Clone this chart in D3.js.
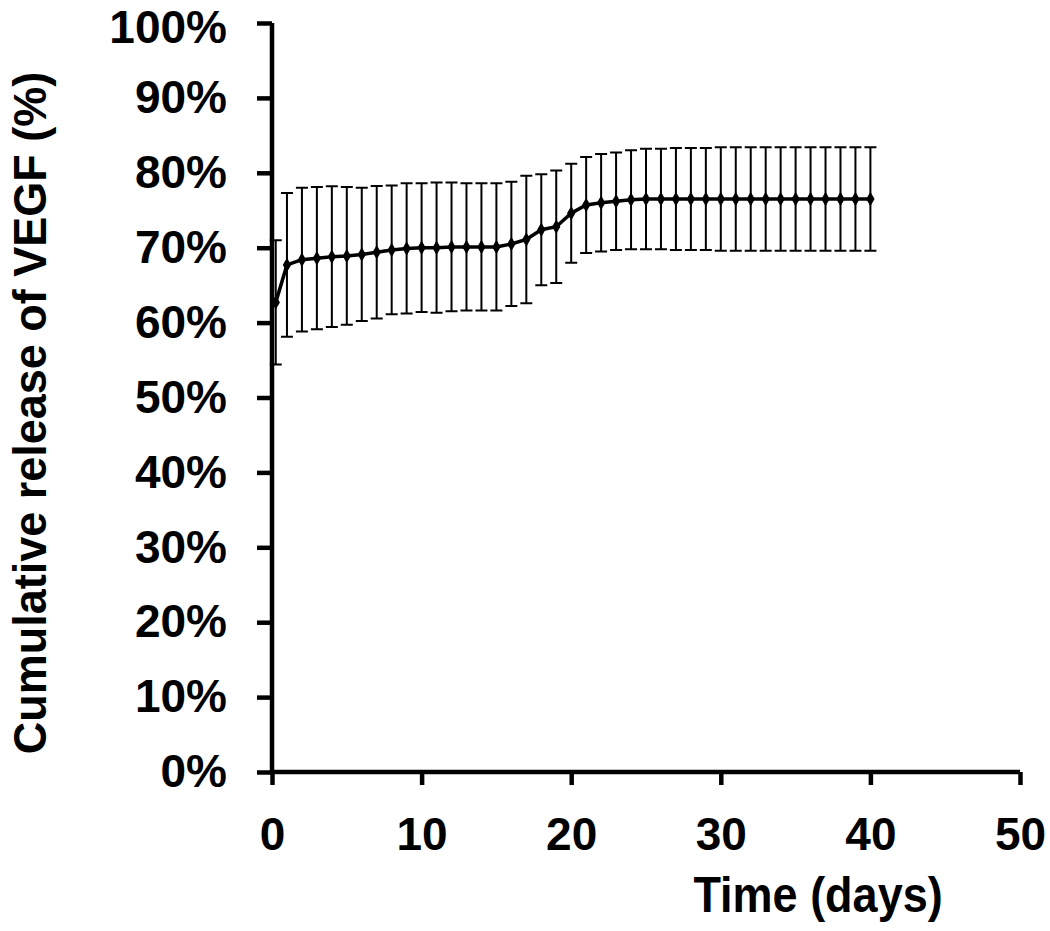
<!DOCTYPE html>
<html>
<head>
<meta charset="utf-8">
<script src="https://cdn.jsdelivr.net/npm/d3@7/dist/d3.min.js"></script>
<style>
  body { margin: 0; background: #fff; }
  text { font-family: "Liberation Sans", Arial, sans-serif; font-weight: bold; fill: #000; }
</style>
</head>
<body>
<div id="chart"></div>
<script>
// time points (days)
const days = [0.25, 1, 2, 3, 4, 5, 6, 7, 8, 9, 10, 11, 12, 13, 14, 15, 16, 17, 18, 19, 20,
  21, 22, 23, 24, 25, 26, 27, 28, 29, 30, 31, 32, 33, 34, 35, 36, 37, 38, 39, 40];
// mean cumulative release (%)
const release = [62.7, 67.7, 68.4, 68.6, 68.8, 68.9, 69.1, 69.4, 69.7, 69.9, 70.0,
  70.0, 70.1, 70.1, 70.1, 70.1, 70.5, 71.1, 72.4, 72.8, 74.6,
  75.7, 76.0, 76.2, 76.4, 76.5, 76.5, 76.5, 76.5, 76.5, 76.5,
  76.5, 76.5, 76.5, 76.5, 76.5, 76.5, 76.5, 76.5, 76.5, 76.5];
// standard deviation (%)
const sd = [8.3, 9.6, 9.6, 9.5, 9.4, 9.2, 8.9, 8.85, 8.6, 8.7, 8.6,
  8.7, 8.6, 8.5, 8.5, 8.5, 8.3, 8.5, 7.4, 7.5, 6.6,
  6.4, 6.5, 6.5, 6.6, 6.7, 6.7, 6.8, 6.8, 6.8, 6.9,
  6.9, 6.9, 6.9, 6.9, 6.9, 6.9, 6.9, 6.9, 6.9, 6.9];
const xTicks = [0, 10, 20, 30, 40, 50];
const yTicks = [0, 10, 20, 30, 40, 50, 60, 70, 80, 90, 100];

const width = 1050, height = 931;
const margin = { left: 272, right: 30, top: 23, bottom: 159 };

const data = days.map((d, i) => ({ t: d, v: release[i], e: sd[i] }));

const svg = d3.select('#chart').append('svg')
  .attr('width', width)
  .attr('height', height);

const x = d3.scaleLinear().domain([0, 50]).range([margin.left, width - margin.right]);
const y = d3.scaleLinear().domain([0, 100]).range([height - margin.bottom, margin.top]);

// y axis
const yAxis = svg.append('g')
  .attr('transform', 'translate(' + margin.left + ',0)')
  .call(d3.axisLeft(y).tickValues(yTicks).tickSize(15).tickPadding(30).tickFormat(d => d + '%'));
// x axis
const xAxis = svg.append('g')
  .attr('transform', 'translate(0,' + (height - margin.bottom) + ')')
  .call(d3.axisBottom(x).tickValues(xTicks).tickSize(13).tickPadding(32));

[yAxis, xAxis].forEach(ax => {
  ax.select('.domain').attr('stroke', '#000').attr('stroke-width', 4.5);
  ax.selectAll('.tick line').attr('stroke', '#000').attr('stroke-width', 4.5);
  ax.selectAll('.tick text').style('font-size', '46px').attr('font-family', null);
});
yAxis.select('.domain').attr('d', 'M0,' + y(100) + 'V' + y(0));
xAxis.select('.domain').attr('d', 'M' + x(0) + ',0H' + x(50));
// keep the top label inside the picture
yAxis.selectAll('.tick text').filter(d => d === 100).attr('dy', '0.42em');

// error bars
const cap = 6;
const bars = svg.append('g').attr('stroke', '#000').attr('stroke-width', 2).attr('fill', 'none');
bars.selectAll('path')
  .data(data)
  .enter()
  .append('path')
  .attr('d', d => {
    const cx = x(d.t), t = y(d.v + d.e), b = y(d.v - d.e);
    return 'M' + cx + ',' + t + 'V' + b +
      'M' + (cx - cap) + ',' + t + 'H' + (cx + cap) +
      'M' + (cx - cap) + ',' + b + 'H' + (cx + cap);
  });

// mean line
const line = d3.line().x(d => x(d.t)).y(d => y(d.v));
svg.append('path')
  .datum(data)
  .attr('d', line)
  .attr('fill', 'none')
  .attr('stroke', '#000')
  .attr('stroke-width', 3.5);

// diamond markers
const diamond = d3.symbol().type(d3.symbolDiamond).size(60);
svg.append('g').selectAll('path')
  .data(data)
  .enter()
  .append('path')
  .attr('transform', d => 'translate(' + x(d.t) + ',' + y(d.v) + ')')
  .attr('d', diamond)
  .attr('fill', '#000');

// axis titles (glyphs a bit taller than plain Arial in the original)
svg.append('text')
  .attr('transform', 'translate(' + x(36.5) + ',912) scale(1,1.1)')
  .attr('text-anchor', 'middle')
  .style('font-size', '45px')
  .text('Time (days)');

svg.append('text')
  .attr('transform', 'translate(45.5,413) rotate(-90) scale(1,1.03)')
  .attr('text-anchor', 'middle')
  .style('font-size', '45px')
  .text('Cumulative release of VEGF (%)');
</script>
</body>
</html>
